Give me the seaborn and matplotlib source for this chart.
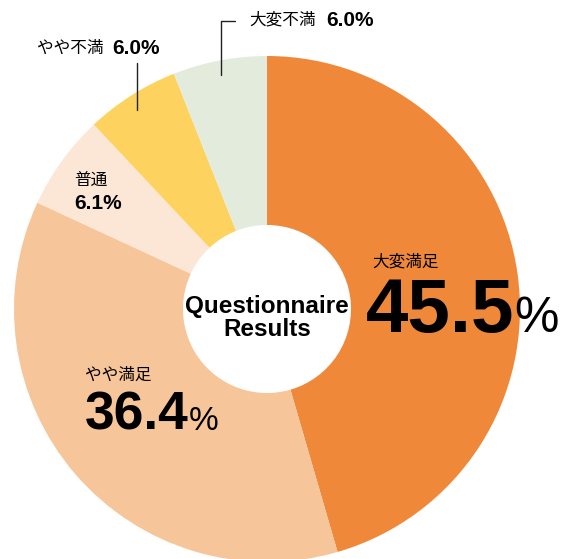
import matplotlib
matplotlib.use("Agg")
import matplotlib.pyplot as plt
import seaborn as sns
from matplotlib.lines import Line2D

sns.set_theme(style="white")
plt.rcParams['font.family'] = ['Liberation Sans', 'Noto Sans CJK JP', 'DejaVu Sans']
plt.rcParams['text.color'] = 'black'

# Data
categories = ["大変満足", "やや満足", "普通", "やや不満", "大変不満"]
values = [45.5, 36.4, 6.1, 6.0, 6.0]
colors = ["#F0883A", "#F7C59A", "#FCE7D7", "#FDD25E", "#E3ECDC"]
pct_labels = ["45.5", "36.4", "6.1%", "6.0%", "6.0%"]
center_title = "Questionnaire\nResults"

W, H = 575, 559
fig = plt.figure(figsize=(W / 100, H / 100), dpi=100)
ax = fig.add_axes([0, 0, 1, 1])

cx, cy, R, r_in = 267, 309, 253, 84
ax.pie(values, colors=colors, startangle=90, counterclock=False,
       radius=1, wedgeprops=dict(width=1 - r_in / R, linewidth=0))
ax.set_aspect('auto')
ax.set_xlim(-cx / R, (W - cx) / R)
ax.set_ylim(-(H - cy) / R, cy / R)
ax.axis('off')

def P(x, y):
    return x / W, 1 - y / H

jp = 'Noto Sans CJK JP'
lat = ['Liberation Sans', 'Noto Sans CJK JP']
K = 'black'

# Center title
fig.text(*P(267, 318), center_title, ha='center', va='center', fontsize=17.5,
         fontweight='bold', family=lat, linespacing=1.0, color=K)

# 大変満足
fig.text(*P(372, 262), categories[0], ha='left', va='center', fontsize=12, family=jp, color=K)
fig.text(*P(366, 332), pct_labels[0], ha='left', va='baseline', fontsize=55,
         fontweight='bold', family=lat, color=K)
fig.text(*P(514, 332), "%", ha='left', va='baseline', fontsize=36, family=lat, color=K)

# やや満足
fig.text(*P(85, 375), categories[1], ha='left', va='center', fontsize=12, family=jp, color=K)
fig.text(*P(85, 430), pct_labels[1], ha='left', va='baseline', fontsize=38.5,
         fontweight='bold', family=lat, color=K)
fig.text(*P(189, 430), "%", ha='left', va='baseline', fontsize=24, family=lat, color=K)

# 普通
fig.text(*P(74, 180), categories[2], ha='left', va='center', fontsize=12, family=jp, color=K)
fig.text(*P(74, 204), pct_labels[2], ha='left', va='center', fontsize=15,
         fontweight='bold', family=lat, color=K)

# やや不満
fig.text(*P(37, 48), categories[3], ha='left', va='center', fontsize=12, family=jp, color=K)
fig.text(*P(112, 48), pct_labels[3], ha='left', va='center', fontsize=15,
         fontweight='bold', family=lat, color=K)
fig.add_artist(Line2D([137 / W, 137 / W], [1 - 63 / H, 1 - 110 / H],
                      color='#222222', lw=1.0, transform=fig.transFigure))

# 大変不満
fig.text(*P(249, 20), categories[4], ha='left', va='center', fontsize=12, family=jp, color=K)
fig.text(*P(326, 20), pct_labels[4], ha='left', va='center', fontsize=15,
         fontweight='bold', family=lat, color=K)
fig.add_artist(Line2D([235 / W, 221 / W, 221 / W], [1 - 21 / H, 1 - 21 / H, 1 - 75 / H],
                      color='#222222', lw=1.0, transform=fig.transFigure))

fig.savefig("out.png", dpi=100, facecolor='white')
